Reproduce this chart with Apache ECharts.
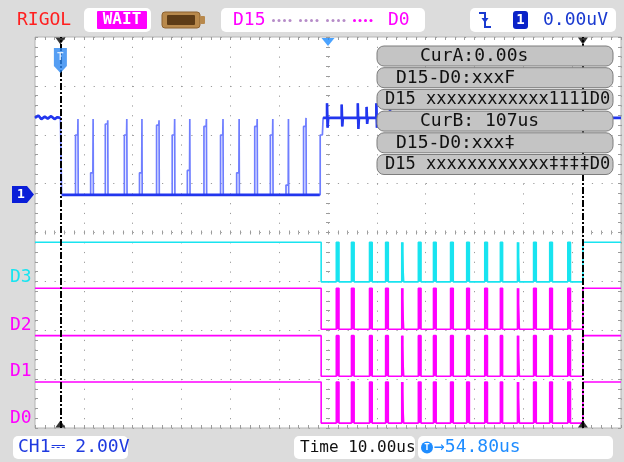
<!DOCTYPE html>
<html><head><meta charset="utf-8">
<script src="https://cdn.jsdelivr.net/npm/echarts@6/dist/echarts.min.js"></script>
<style>html,body{margin:0;padding:0;background:#dcdcdc}#c{width:624px;height:462px}</style>
</head><body><div id="c"></div>
<script>
// ---------------- data ----------------
const timeWindowUs = [-5.2, 114.8];      // 10 us/div x 12 div
const horizPosUs = 54.8;                  // T -> 54.80us
const cursorAUs = 0;                      // CurA: 0.00s
const cursorBUs = 107;                    // CurB: 107us
const ch1VoltsPerDiv = 2;                 // CH1 2.00V
const ch1HighV = 3.15;
const preTriggerUs = [-5.2, -4.5, -3.9, -3.2, -2.6, -1.9, -1.2, -0.6, 0.0];
const preTriggerV  = [3.15, 3.25, 3.1, 3.2, 3.12, 3.22, 3.1, 3.18, 3.15];
const ch1FallUs = 0.25;
const spikeEdgeUs    = [3.6, 6.7, 9.7, 13.6, 16.7, 20.2, 23.4, 26.5, 29.9, 33.3, 36.6, 40.3, 43.5, 46.7, 50.3];
const spikeShoulderV = [2.45, 0.9, 2.9, 2.45, 0.9, 2.85, 2.45, 1.0, 2.8, 2.45, 0.9, 2.8, 2.45, 0.4, 2.8];
const spikePeakV     = [3.1, 3.1, 3.05, 3.1, 3.1, 3.05, 3.1, 3.1, 3.1, 3.1, 3.1, 3.1, 3.1, 3.1, 3.15];
const ch1RiseUs = 53.8;
const ch1RiseShoulderV = 2.45;
const postNoiseUs  = [54.6, 57.6, 60.9, 62.7, 64.7, 67.5];
const postNoiseHiV = [3.75, 3.7, 3.75, 3.6, 3.75, 3.5];
const postNoiseLoV = [2.75, 2.8, 2.7, 2.9, 2.75, 2.9];

const digitalNames = ['D3', 'D2', 'D1', 'D0'];
const busFallUs = 53.4;
const busRiseUs = 107.0;
const pulseStartUs = [56.5, 59.6, 63.3, 66.6, 69.9, 73.3, 76.4, 79.9, 83.2, 86.9, 90.1, 93.6, 96.9, 100.2, 103.9];
const pulseWidthUs = [0.55, 0.55, 0.55, 0.55, 0.4, 0.55, 0.55, 0.55, 0.55, 0.55, 0.45, 0.4, 0.55, 0.55, 0.55];

// ---------------- layout (pixels / divisions) ----------------
const G = {left: 35, top: 37, right: 3, bottom: 34};
const DIVS_X = 12, DIVS_Y = 8;
const ch1GroundDiv = 4.77;
const digitalLayout = [ {low: 2.99, high: 3.80}, {low: 2.02, high: 2.86}, {low: 1.06, high: 1.89}, {low: 0.10, high: 0.94} ];
const digitalColors = ['#18e4f0', '#ff00ff', '#ff00ff', '#ff00ff'];
const MONO = '"DejaVu Sans Mono", monospace';

// ---------------- build traces ----------------
const ch1Thin = [];
preTriggerUs.forEach((t, i) => ch1Thin.push([t, preTriggerV[i]]));
ch1Thin.push([ch1FallUs, ch1HighV], [ch1FallUs, 0]);
spikeEdgeUs.forEach((t, i) => {
  const tp = t - 0.5;
  ch1Thin.push([tp, 0], [tp, spikeShoulderV[i]], [t - 0.05, spikeShoulderV[i]], [t, spikePeakV[i]], [t + 0.05, 0]);
});
ch1Thin.push([ch1RiseUs - 0.6, 0], [ch1RiseUs - 0.6, ch1RiseShoulderV], [ch1RiseUs - 0.15, ch1RiseShoulderV], [ch1RiseUs, ch1HighV]);
const postPts = [];
postNoiseUs.forEach((t, i) => postPts.push([t, ch1HighV], [t, postNoiseHiV[i]], [t + 0.12, postNoiseLoV[i]], [t + 0.24, ch1HighV]));
postPts.push([timeWindowUs[1], ch1HighV]);
ch1Thin.push(...postPts);

const ch1Thick = [];
preTriggerUs.forEach((t, i) => ch1Thick.push([t, preTriggerV[i]]));
ch1Thick.push([ch1FallUs, '-']);
ch1Thick.push([ch1FallUs + 0.1, 0], [ch1RiseUs - 0.7, 0], [ch1RiseUs - 0.6, '-']);
ch1Thick.push([ch1RiseUs, ch1HighV], ...postPts);

function digitalTrace() {
  const d = [[timeWindowUs[0], 1], [busFallUs, 1], [busFallUs, 0]];
  pulseStartUs.forEach((p, i) => {
    const e = p + pulseWidthUs[i];
    d.push([p, 0], [p, 1], [e, 1], [e, 0]);
  });
  d.push([busRiseUs, 0], [busRiseUs, 1], [timeWindowUs[1], 1]);
  return d;
}
const pulseSpans = pulseStartUs.map((p, i) => [p, p + pulseWidthUs[i]]);

// ---------------- axes ----------------
const tickCol = '#9c9c9c';
const dotted = {color: '#9c9c9c', width: 1, type: [1.2, 8.57]};
function divX(extra) {
  return Object.assign({type: 'value', min: 0, max: DIVS_X, interval: 1, position: 'bottom',
    axisLine: {show: false, onZero: false}, axisLabel: {show: false}, splitLine: {show: false},
    axisTick: {show: true, inside: true, length: 3, lineStyle: {color: tickCol}},
    minorTick: {show: true, splitNumber: 5, length: 3, lineStyle: {color: tickCol}}}, extra);
}
function divY(extra) {
  return Object.assign({type: 'value', min: 0, max: DIVS_Y, interval: 1, position: 'left',
    axisLine: {show: false, onZero: false}, axisLabel: {show: false}, splitLine: {show: false},
    axisTick: {show: true, inside: true, length: 3, lineStyle: {color: tickCol}},
    minorTick: {show: true, splitNumber: 5, length: 3, lineStyle: {color: tickCol}}}, extra);
}
const plotH = 462 - G.top - G.bottom, plotW = 624 - G.left - G.right;
const xAxes = [
  divX({splitLine: {show: true, lineStyle: dotted}}),
  divX({position: 'top'}),
  divX({offset: -plotH / 2, axisTick: {show: true, inside: true, length: 2, lineStyle: {color: tickCol}}, minorTick: {show: true, splitNumber: 5, length: 2, lineStyle: {color: tickCol}}}),
  divX({offset: -plotH / 2, axisTick: {show: true, inside: false, length: 2, lineStyle: {color: tickCol}}, minorTick: {show: true, splitNumber: 5, length: 2, lineStyle: {color: tickCol}}}),
  {type: 'value', min: timeWindowUs[0], max: timeWindowUs[1], show: false, axisLine: {onZero: false}}
];
const yAxes = [
  divY({splitLine: {show: true, lineStyle: dotted}}),
  divY({position: 'right'}),
  divY({offset: -plotW / 2, axisTick: {show: true, inside: true, length: 2, lineStyle: {color: tickCol}}, minorTick: {show: true, splitNumber: 5, length: 2, lineStyle: {color: tickCol}}}),
  divY({offset: -plotW / 2, axisTick: {show: true, inside: false, length: 2, lineStyle: {color: tickCol}}, minorTick: {show: true, splitNumber: 5, length: 2, lineStyle: {color: tickCol}}}),
  {type: 'value', min: -ch1GroundDiv * ch1VoltsPerDiv, max: (DIVS_Y - ch1GroundDiv) * ch1VoltsPerDiv, show: false, axisLine: {onZero: false}}
];
digitalLayout.forEach(L => {
  const unit = L.high - L.low;
  const mn = -L.low / unit;
  yAxes.push({type: 'value', min: mn, max: mn + DIVS_Y / unit, show: false, axisLine: {onZero: false}});
});

// ---------------- series ----------------
const series = [];
digitalNames.forEach((n, i) => {
  series.push({name: n, type: 'line', xAxisIndex: 4, yAxisIndex: 5 + i, data: digitalTrace(),
    symbol: 'none', lineStyle: {color: digitalColors[i], width: 1.6, join: 'bevel'}, silent: true, z: 3});
  const col = digitalColors[i];
  series.push({name: n + ' pulses', type: 'custom', xAxisIndex: 4, yAxisIndex: 5 + i, data: pulseSpans,
    encode: {x: [0, 1]}, silent: true, z: 3,
    renderItem: (params, api) => {
      const a = api.coord([api.value(0), 1]);
      const b = api.coord([api.value(1), 0]);
      return {type: 'rect', shape: {x: a[0], y: a[1], width: b[0] - a[0], height: b[1] - a[1]}, style: {fill: col}};
    }});
});
series.push({name: 'CH1', type: 'line', xAxisIndex: 4, yAxisIndex: 4, data: ch1Thin, symbol: 'none',
  lineStyle: {color: '#6f7eff', width: 1.7, join: 'bevel'}, silent: true, z: 4,
  markLine: {silent: true, symbol: 'none', label: {show: false},
    lineStyle: {color: '#000', width: 2, type: [7, 2, 2, 2]},
    data: [{xAxis: cursorAUs}, {xAxis: cursorBUs}]}});
series.push({name: 'CH1 level', type: 'line', xAxisIndex: 4, yAxisIndex: 4, data: ch1Thick, symbol: 'none',
  connectNulls: false, lineStyle: {color: '#2236ee', width: 2.6, join: 'bevel'}, silent: true, z: 5});
// cursor end triangles
series.push({type: 'scatter', xAxisIndex: 4, yAxisIndex: 0, data: [[cursorAUs, 7.92], [cursorBUs, 7.92]],
  symbol: 'triangle', symbolRotate: 180, symbolSize: [10, 7], itemStyle: {color: '#000'}, silent: true, z: 6});
series.push({type: 'scatter', xAxisIndex: 4, yAxisIndex: 0, data: [[cursorAUs, 0.08], [cursorBUs, 0.08]],
  symbol: 'triangle', symbolSize: [10, 7], itemStyle: {color: '#000'}, silent: true, z: 6});
// horizontal position marker (screen centre) and trigger point flag
series.push({type: 'scatter', xAxisIndex: 4, yAxisIndex: 0, data: [[horizPosUs, 7.9]],
  symbol: 'triangle', symbolRotate: 180, symbolSize: [13, 8], itemStyle: {color: '#1e8cff'}, silent: true, z: 6});
series.push({type: 'scatter', xAxisIndex: 4, yAxisIndex: 0, data: [[cursorAUs, 7.52]],
  symbol: 'path://M0,0 L12,0 L12,18 L6,25 L0,18 Z', symbolSize: [13, 25], itemStyle: {color: '#2a86f0'},
  label: {show: true, position: 'inside', formatter: 'T', color: '#fff', fontSize: 10, fontWeight: 'bold', offset: [0, -3]},
  silent: true, z: 7});

// ---------------- chrome (header, footer, readouts) ----------------
const gfx = [];
function box(x, y, w, h, fill, r, stroke) {
  gfx.push({type: 'rect', shape: {x, y, width: w, height: h, r: r || 4}, style: {fill, stroke: stroke || null, lineWidth: 1}, z: 50});
}
function txt(x, y, s, color, size, align, weight) {
  gfx.push({type: 'text', x, y, style: {text: s, fill: color, font: (weight || 'normal') + ' ' + size + 'px ' + MONO,
    textAlign: align || 'left', textVerticalAlign: 'middle'}, z: 51});
}
// header
txt(17, 20, 'RIGOL', '#ff1f1f', 18);
box(84, 8, 67, 24, '#fff', 5);
box(97, 11, 50, 18, '#ff00ff', 1);
txt(122, 20, 'WAIT', '#fff', 16, 'center', 'bold');
box(162, 12, 38, 16, '#b8894c', 3, '#8d6230');
box(167, 15, 28, 10, '#5e3c16', 1);
box(200, 16, 5, 8, '#b8894c', 1);
box(221, 8, 204, 24, '#fff', 5);
txt(233, 20, 'D15', '#ff00ff', 18);
for (let g = 0; g < 4; g++) {
  for (let k = 0; k < 4; k++) {
    box(272 + g * 27 + k * 5.5, 19, 3, 3, g < 3 ? '#b68cc8' : '#ff00ff', 0);
  }
}
txt(388, 20, 'D0', '#ff00ff', 18);
box(470, 8, 146, 24, '#fff', 5);
gfx.push({type: 'polyline', shape: {points: [[479, 13], [485, 13], [485, 27], [491, 27]]}, style: {stroke: '#1a3ad0', lineWidth: 2, fill: null}, z: 51});
gfx.push({type: 'polygon', shape: {points: [[481.5, 18], [488.5, 18], [485, 23]]}, style: {fill: '#1a3ad0'}, z: 51});
box(513, 11, 15, 18, '#0a22c8', 3);
txt(520.5, 20.5, '1', '#fff', 14, 'center', 'bold');
txt(543, 20, '0.00uV', '#1a3ad0', 18);
// footer
box(13, 436, 115, 23, '#fff', 5);
txt(18, 447.5, 'CH1⎓ 2.00V', '#1f3ae0', 18);
box(294, 436, 121, 23, '#fff', 5);
txt(300, 447.5, 'Time 10.00us', '#111', 16);
box(418, 436, 195, 23, '#fff', 5);
gfx.push({type: 'circle', shape: {cx: 427, cy: 447.5, r: 6}, style: {fill: '#1e8cff'}, z: 51});
txt(427, 447.5, 'T', '#fff', 9, 'center', 'bold');
txt(434, 447.5, '→54.80us', '#1e8cff', 18);
// left markers
gfx.push({type: 'polygon', shape: {points: [[12, 186], [27, 186], [34, 194.5], [27, 203], [12, 203]]}, style: {fill: '#0a1ed8'}, z: 51});
txt(21, 195, '1', '#fff', 13, 'center', 'bold');
const dLabelY = [277, 325, 371, 418];
digitalNames.forEach((n, i) => txt(10, dLabelY[i], n, digitalColors[i], 18));
// cursor readout boxes
const rows = [
  ['CurA:0.00s', 420, 18],
  ['D15-D0:xxxF', 396, 18],
  ['D15 xxxxxxxxxxxx1111D0', 385, 17],
  ['CurB: 107us', 420, 18],
  ['D15-D0:xxx‡', 396, 18],
  ['D15 xxxxxxxxxxxx‡‡‡‡D0', 385, 17]
];
rows.forEach((r, i) => {
  const y = 46 + i * 21.7;
  box(377, y, 236, 20, '#c4c4c4', 7, '#7d7d7d');
  txt(r[1], y + 10.5, r[0], '#111', r[2]);
});

const chart = echarts.init(document.getElementById('c'), null, {renderer: 'canvas'});
chart.setOption({
  animation: false,
  backgroundColor: '#dcdcdc',
  grid: {left: G.left, top: G.top, right: G.right, bottom: G.bottom, show: true, backgroundColor: '#fff', borderColor: '#b4b4b4', borderWidth: 1},
  xAxis: xAxes,
  yAxis: yAxes,
  series: series,
  graphic: {elements: gfx}
});
</script></body></html>
